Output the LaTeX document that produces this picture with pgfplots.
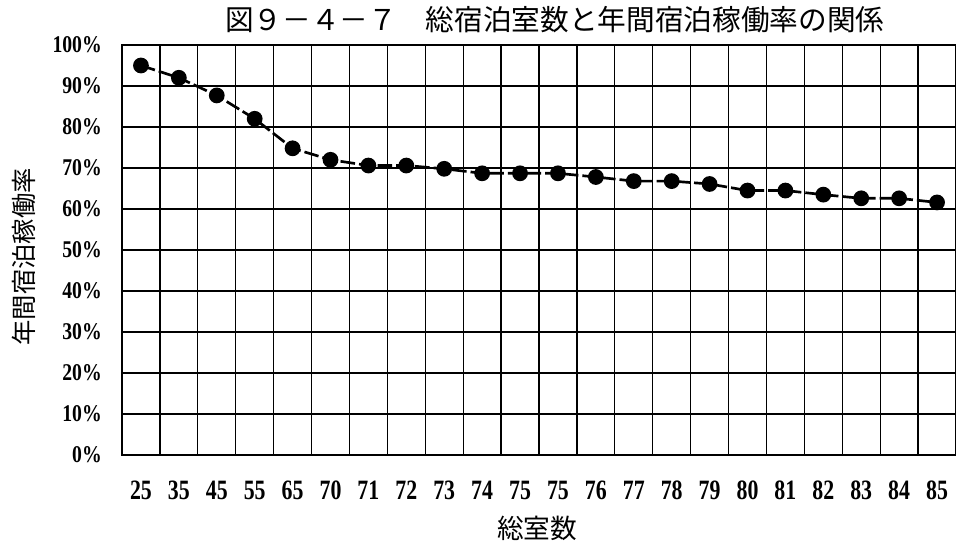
\documentclass[border=0pt]{standalone}
\usepackage{fontspec}
\usepackage{pgfplots}
\pgfplotsset{compat=1.18}
\setmainfont{Liberation Serif}
\newfontfamily\cjk{Noto Sans CJK JP}
\newfontfamily\xtickfont[FakeStretch=0.78]{Liberation Serif}
\newfontfamily\ytickfont[FakeStretch=0.82]{Liberation Serif}
\begin{document}
\begin{tikzpicture}
\begin{axis}[
  scale only axis, width=625.5pt, height=307.5pt,
  xmin=-0.5, xmax=21.5, ymin=0, ymax=100,
  xtick={0,...,21},
  xticklabels={25,35,45,55,65,70,71,72,73,74,75,75,76,77,78,79,80,81,82,83,84,85},
  minor xtick={0.5,1.5,...,20.5},
  xminorgrids,
  ytick={0,10,...,100},
  yticklabels={0\%,10\%,20\%,30\%,40\%,50\%,60\%,70\%,80\%,90\%,100\%},
  ymajorgrids,
  major tick length=0pt, minor tick length=0pt,
  grid style={black, line width=0.9pt},
  minor grid style={black, line width=0.9pt},
  axis line style={black, line width=1pt},
  xticklabel style={font=\xtickfont\bfseries\fontsize{21}{21}\selectfont, anchor=center, yshift=-26.25pt},
  yticklabel style={font=\ytickfont\bfseries\fontsize{18}{18}\selectfont, anchor=east, inner sep=0pt, xshift=-15pt},
  clip=false,
]
\addplot[black, line width=2pt, dash pattern=on 11pt off 3pt, mark=*, mark size=4.9pt, mark options={solid, fill=black}]
coordinates {
(0,95.0) (1,92.0) (2,87.7) (3,82.0) (4,74.8) (5,72.0) (6,70.6) (7,70.6)
(8,69.8) (9,68.7) (10,68.7) (11,68.7) (12,67.8) (13,66.8) (14,66.8) (15,66.1)
(16,64.5) (17,64.5) (18,63.5) (19,62.6) (20,62.6) (21,61.6)
};
\node[font=\cjk\fontsize{21.5}{21.5}\selectfont, anchor=center] at (axis cs:10.92,106.1) {図９－４－７　総宿泊室数と年間宿泊稼働率の関係};
\node[font=\cjk\fontsize{19}{19}\selectfont, anchor=center, rotate=90] at (axis cs:-3.10,48.3) {年間宿泊稼働率};
\node[font=\cjk\fontsize{20}{20}\selectfont, anchor=center] at (axis cs:10.45,-17.8) {総室数};
\coordinate (bl) at (axis cs:-0.5,0);
\coordinate (tr) at (axis cs:21.5,100);
\end{axis}
\pgfresetboundingbox
\path ([xshift=-91.5pt,yshift=-64.5pt]bl) rectangle ([yshift=33.75pt]tr);
\end{tikzpicture}
\end{document}
